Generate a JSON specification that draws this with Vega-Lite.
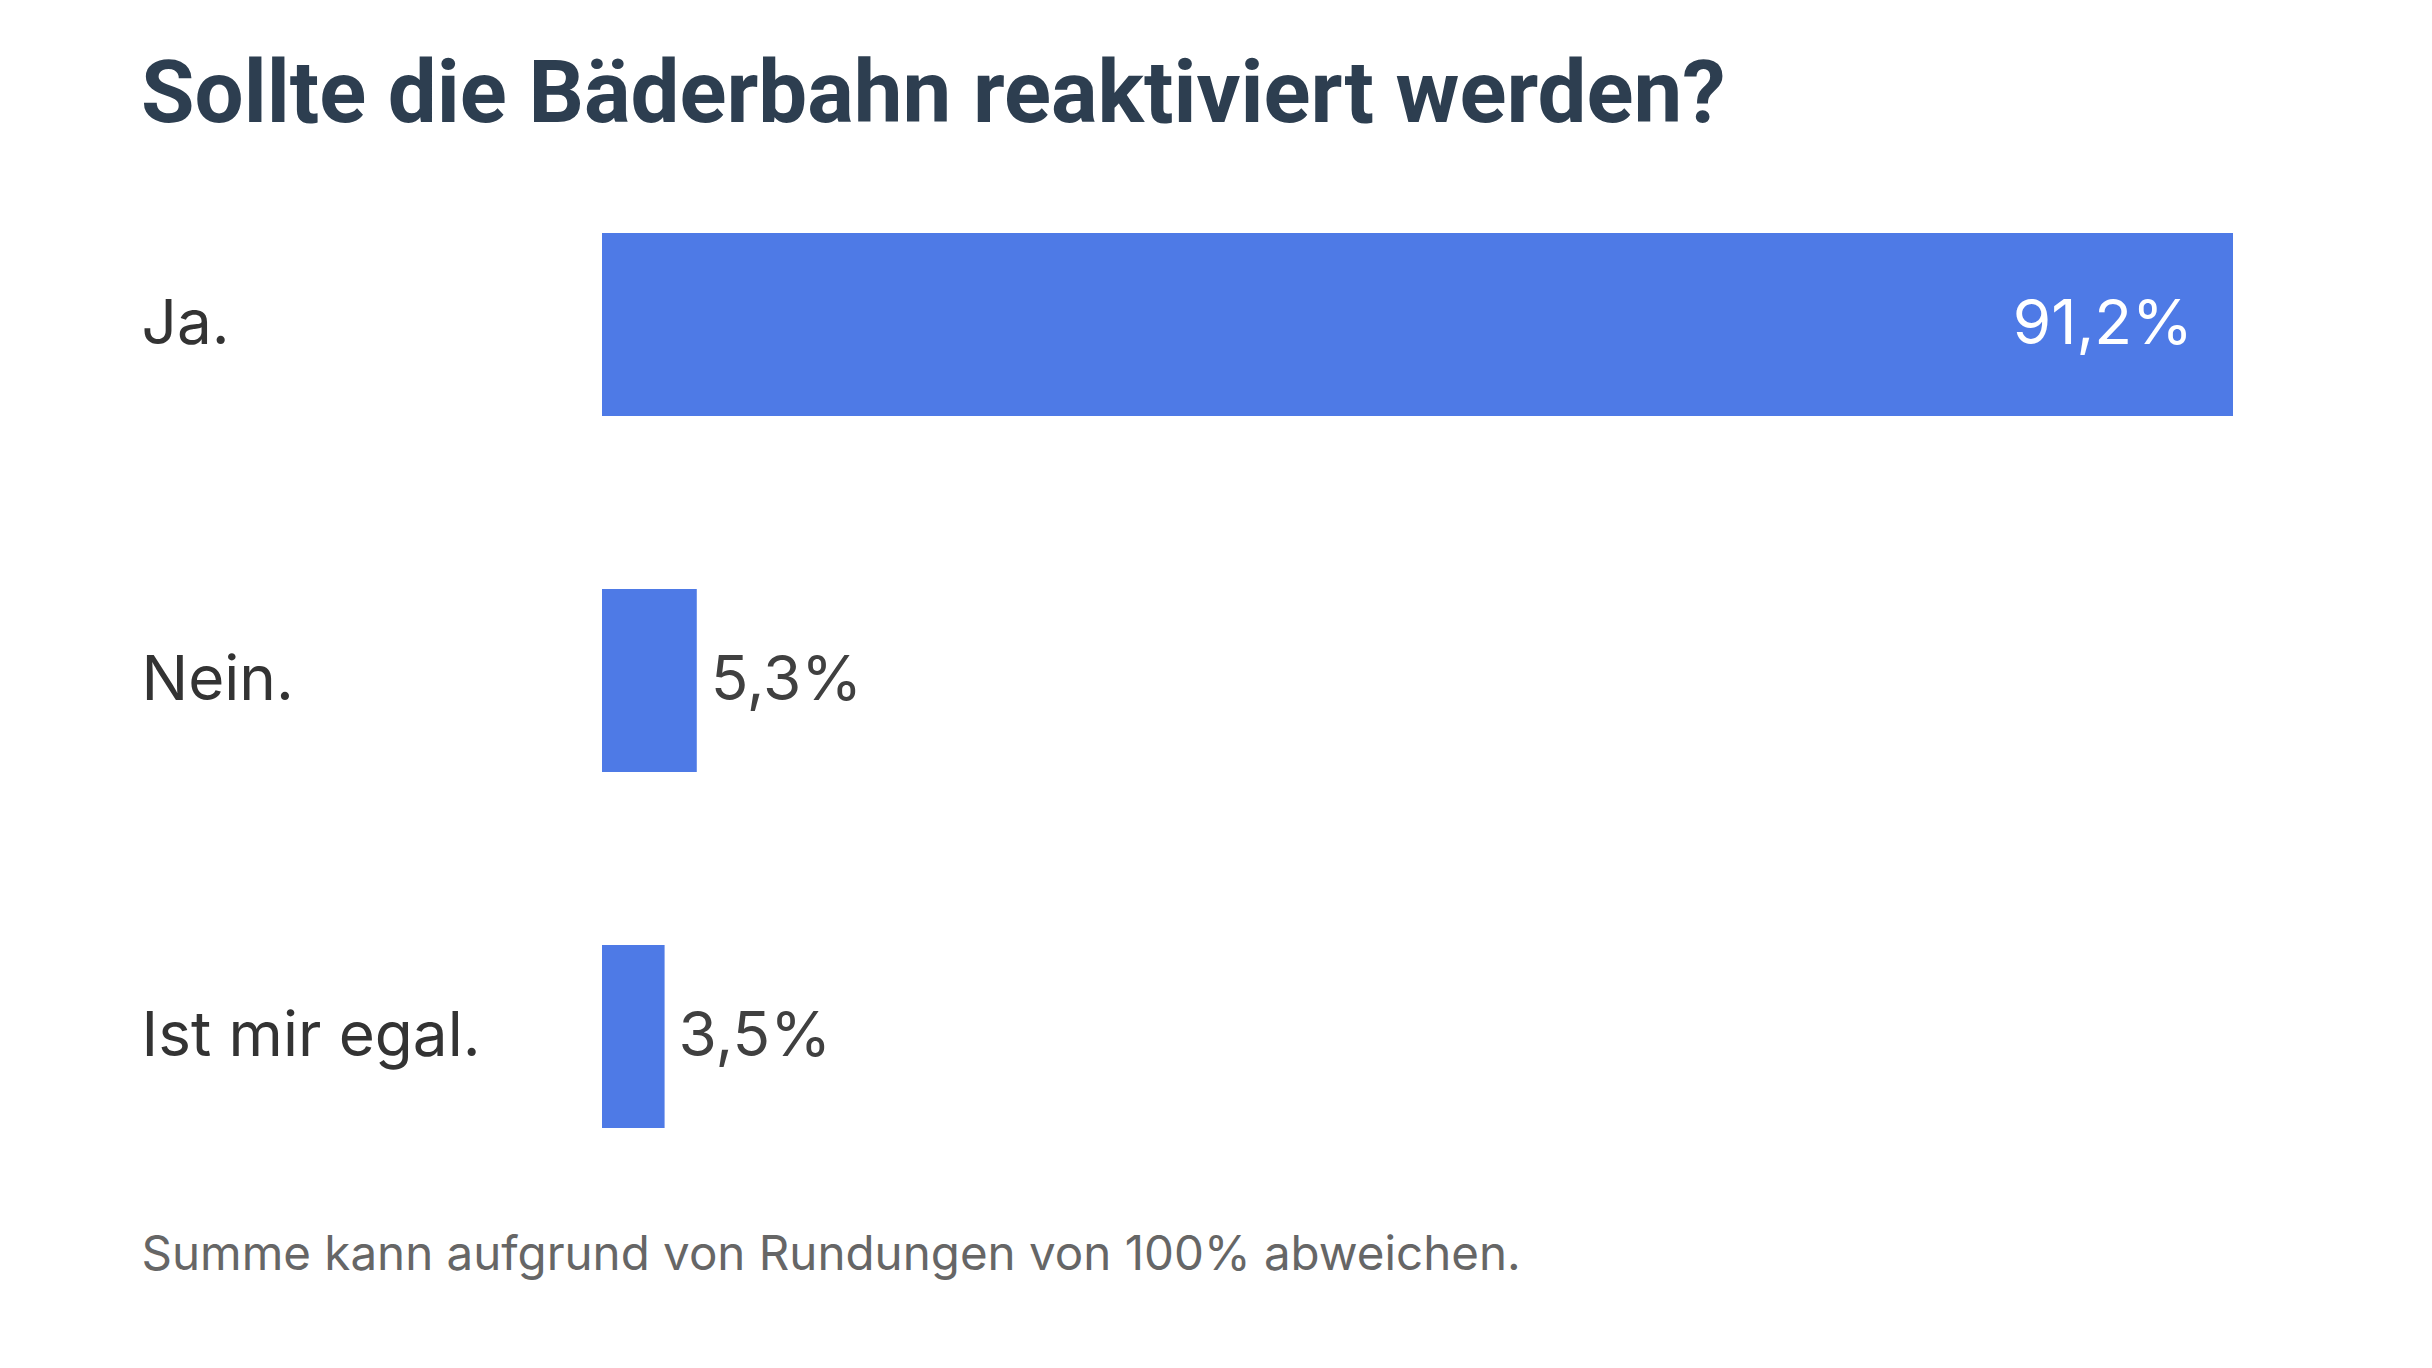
{
  "$schema": "https://vega.github.io/schema/vega-lite/v6.json",
  "width": 1631,
  "height": 1068,
  "autosize": {"type": "none"},
  "padding": {"left": 602, "top": 146.5, "right": 199, "bottom": 153.5},
  "background": "white",
  "config": {
    "view": {"stroke": null},
    "locale": {"number": {"decimal": ",", "thousands": ".", "grouping": [3], "currency": ["", " €"]}}
  },
  "title": {
    "text": "Sollte die Bäderbahn reaktiviert werden?",
    "anchor": "start",
    "frame": "group",
    "dx": -461,
    "dy": 87,
    "offset": 25,
    "baseline": "alphabetic",
    "font": "Roboto",
    "fontWeight": "bold",
    "fontSize": 87,
    "color": "#2d3e50"
  },
  "data": {
    "values": [
      {"antwort": "Ja.", "anteil": 0.912},
      {"antwort": "Nein.", "anteil": 0.053},
      {"antwort": "Ist mir egal.", "anteil": 0.035}
    ]
  },
  "encoding": {
    "y": {
      "field": "antwort",
      "type": "nominal",
      "sort": null,
      "scale": {"paddingInner": 0.486, "paddingOuter": 0.243},
      "axis": {
        "title": null,
        "domain": false,
        "ticks": false,
        "grid": false,
        "labelAlign": "left",
        "labelPadding": 461,
        "labelFont": "Inter",
        "labelFontSize": 62,
        "labelColor": "#333333",
        "labelLimit": 0
      }
    },
    "x": {
      "field": "anteil",
      "type": "quantitative",
      "scale": {"domain": [0, 0.912], "nice": false},
      "axis": {
        "title": "Summe kann aufgrund von Rundungen von 100% abweichen.",
        "domain": false,
        "ticks": false,
        "labels": false,
        "grid": false,
        "titleAlign": "left",
        "titleAnchor": "start",
        "titleX": -461,
        "titleY": 55,
        "titleBaseline": "alphabetic",
        "titleFont": "Inter",
        "titleFontSize": 47.5,
        "titleFontWeight": "normal",
        "titleColor": "#666666"
      }
    }
  },
  "layer": [
    {"mark": {"type": "bar", "color": "#4e7ae6"}},
    {
      "transform": [{"filter": "datum.anteil > 0.5"}],
      "mark": {"type": "text", "align": "right", "baseline": "middle", "dx": -40, "font": "Inter", "fontSize": 62, "color": "#ffffff"},
      "encoding": {"text": {"field": "anteil", "type": "quantitative", "format": ".1%"}}
    },
    {
      "transform": [{"filter": "datum.anteil <= 0.5"}],
      "mark": {"type": "text", "align": "left", "baseline": "middle", "dx": 14, "font": "Inter", "fontSize": 62, "color": "#404040"},
      "encoding": {"text": {"field": "anteil", "type": "quantitative", "format": ".1%"}}
    }
  ]
}
